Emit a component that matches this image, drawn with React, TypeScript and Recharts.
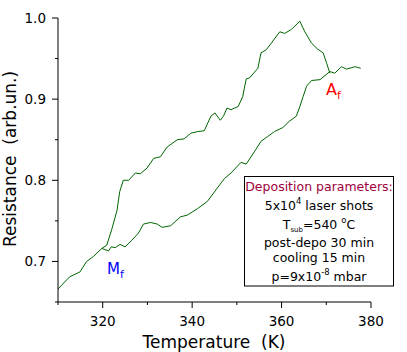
import { Line, LineChart, XAxis, YAxis } from "recharts";

// upper branch (peaks near 364 K, rejoins at A_f)
const upperT = [
  310, 312.6, 314.9, 316.4, 317.9, 319.8, 320.9, 322.0, 323.2, 323.8, 324.6, 325.8, 327.3, 328.4,
  329.9, 331.4, 332.9, 334.4, 336.7, 338.2, 339.7, 341.2, 342.7, 344.2, 345.1, 346.3, 347.0, 347.8,
  348.7, 350.3, 351.3, 352.1, 352.8, 354.7, 355.4, 356.6, 357.7, 359.6, 360.7, 362.2, 364.1, 365.2,
  366.7, 368.0, 369.3, 370.1, 370.8,
];
const upperR = [
  0.666, 0.681, 0.687, 0.7, 0.706, 0.716, 0.72, 0.739, 0.763, 0.786, 0.8, 0.8, 0.809, 0.808,
  0.815, 0.827, 0.829, 0.841, 0.85, 0.851, 0.858, 0.86, 0.861, 0.879, 0.883, 0.874, 0.879, 0.889,
  0.887, 0.891, 0.903, 0.925, 0.926, 0.938, 0.957, 0.961, 0.969, 0.983, 0.981, 0.986, 0.996, 0.983,
  0.969, 0.962, 0.957, 0.944, 0.932,
];

// lower branch (from M_f up to A_f and the flat tail)
const lowerT = [
  319.8, 321.3, 321.9, 322.8, 323.9, 325.0, 326.5, 328.0, 329.1, 330.7, 332.2, 333.3, 335.2, 337.4,
  338.9, 341.2, 343.4, 345.3, 347.2, 348.7, 350.9, 352.1, 353.9, 355.4, 356.9, 358.4, 360.3, 361.8,
  363.3, 364.1, 364.8, 365.6, 366.7, 368.6, 370.8, 371.9, 373.4, 374.5, 376.4, 377.7,
];
const lowerR = [
  0.716, 0.713, 0.718, 0.717, 0.721, 0.718, 0.726, 0.735, 0.746, 0.748, 0.746, 0.742, 0.744, 0.755,
  0.757, 0.765, 0.774, 0.788, 0.802, 0.809, 0.822, 0.82, 0.835, 0.848, 0.854, 0.86, 0.865, 0.873,
  0.879, 0.891, 0.903, 0.916, 0.923, 0.924, 0.934, 0.932, 0.94, 0.937, 0.94, 0.938,
];

const xTicks = [310, 320, 330, 340, 350, 360, 370, 380];
const yTicks = [0.65, 0.7, 0.75, 0.8, 0.85, 0.9, 0.95, 1.0];

const upper = upperT.map((t, i) => ({ t, r: upperR[i] }));
const lower = lowerT.map((t, i) => ({ t, r: lowerR[i] }));

const FONT = "'DejaVu Sans', Verdana, sans-serif";
const GREEN = "#006600";

const XTick = (props: any) => {
  const { x, y, payload } = props;
  const v = payload.value as number;
  const major = v % 20 === 0;
  return (
    <g>
      <line x1={x} x2={x} y1={y} y2={y + (major ? 6 : 3)} stroke="#000" />
      {major && (
        <text x={x} y={y + 24} textAnchor="middle" fontSize={13.5} fontFamily={FONT} fill="#000">
          {v}
        </text>
      )}
    </g>
  );
};

const YTick = (props: any) => {
  const { x, y, payload } = props;
  const v = payload.value as number;
  const major = Math.round(v * 100) % 10 === 0;
  return (
    <g>
      <line x1={x - (major ? 6 : 3)} x2={x} y1={y} y2={y} stroke="#000" />
      {major && (
        <text x={x - 12} y={y + 4.7} textAnchor="end" fontSize={13.5} fontFamily={FONT} fill="#000">
          {v.toFixed(1)}
        </text>
      )}
    </g>
  );
};

export default function App() {
  return (
    <div style={{ position: "absolute", left: 0, top: 0, width: 407, height: 352, background: "#fff" }}>
      <LineChart width={407} height={352} margin={{ top: 18, right: 36, bottom: 0, left: 0 }}>
        <XAxis
          type="number"
          dataKey="t"
          domain={[310, 380]}
          ticks={xTicks}
          allowDataOverflow
          height={50}
          tickSize={0}
          tickMargin={0}
          tickLine={false}
          axisLine={{ stroke: "#000" }}
          tick={<XTick />}
          interval={0}
        />
        <YAxis
          type="number"
          dataKey="r"
          domain={[0.65, 1.0]}
          ticks={yTicks}
          allowDataOverflow
          width={58}
          tickSize={0}
          tickMargin={0}
          tickLine={false}
          axisLine={{ stroke: "#000" }}
          tick={<YTick />}
          interval={0}
        />
        <Line data={upper} dataKey="r" type="linear" stroke={GREEN} strokeWidth={1} dot={false} isAnimationActive={false} />
        <Line data={lower} dataKey="r" type="linear" stroke={GREEN} strokeWidth={1} dot={false} isAnimationActive={false} />
      </LineChart>
      <svg
        width={407}
        height={352}
        style={{ position: "absolute", left: 0, top: 0, pointerEvents: "none" }}
        fontFamily={FONT}
      >
        <text x={214} y={348} textAnchor="middle" fontSize={17} fill="#000" style={{ whiteSpace: "pre" }}>
          Temperature  (K)
        </text>
        <text
          x={15.7}
          y={159}
          textAnchor="middle"
          fontSize={17}
          fill="#000"
          transform="rotate(-90 15.7 159)"
          style={{ whiteSpace: "pre" }}
        >
          Resistance  (arb.un.)
        </text>
        <text x={107} y={273.5} fontSize={15} fill="#0000ff">
          M<tspan fontSize={11} dy={4}>f</tspan>
        </text>
        <text x={326} y={95} fontSize={16} fill="#ff0000">
          A<tspan fontSize={11} dy={4}>f</tspan>
        </text>
        <rect x={244.5} y={176.5} width={149} height={109.5} fill="#fff" stroke="#000" />
        <g fontSize={12.5} textAnchor="middle" fill="#000">
          <text x={319} y={190.7} fill="#a0003c">Deposition parameters:</text>
          <text x={319} y={210}>
            5x10<tspan fontSize={8.5} dy={-6}>4</tspan>
            <tspan dy={6}> laser shots</tspan>
          </text>
          <text x={319} y={229}>
            T<tspan fontSize={7} dy={3}>sub</tspan>
            <tspan dy={-3}>=540 </tspan>
            <tspan fontSize={8.5} dy={-6}>o</tspan>
            <tspan dy={6}>C</tspan>
          </text>
          <text x={319} y={247.3}>post-depo 30 min</text>
          <text x={319} y={262.3}>cooling 15 min</text>
          <text x={319} y={281.3}>
            p=9x10<tspan fontSize={8.5} dy={-6}>-8</tspan>
            <tspan dy={6}> mbar</tspan>
          </text>
        </g>
      </svg>
    </div>
  );
}
